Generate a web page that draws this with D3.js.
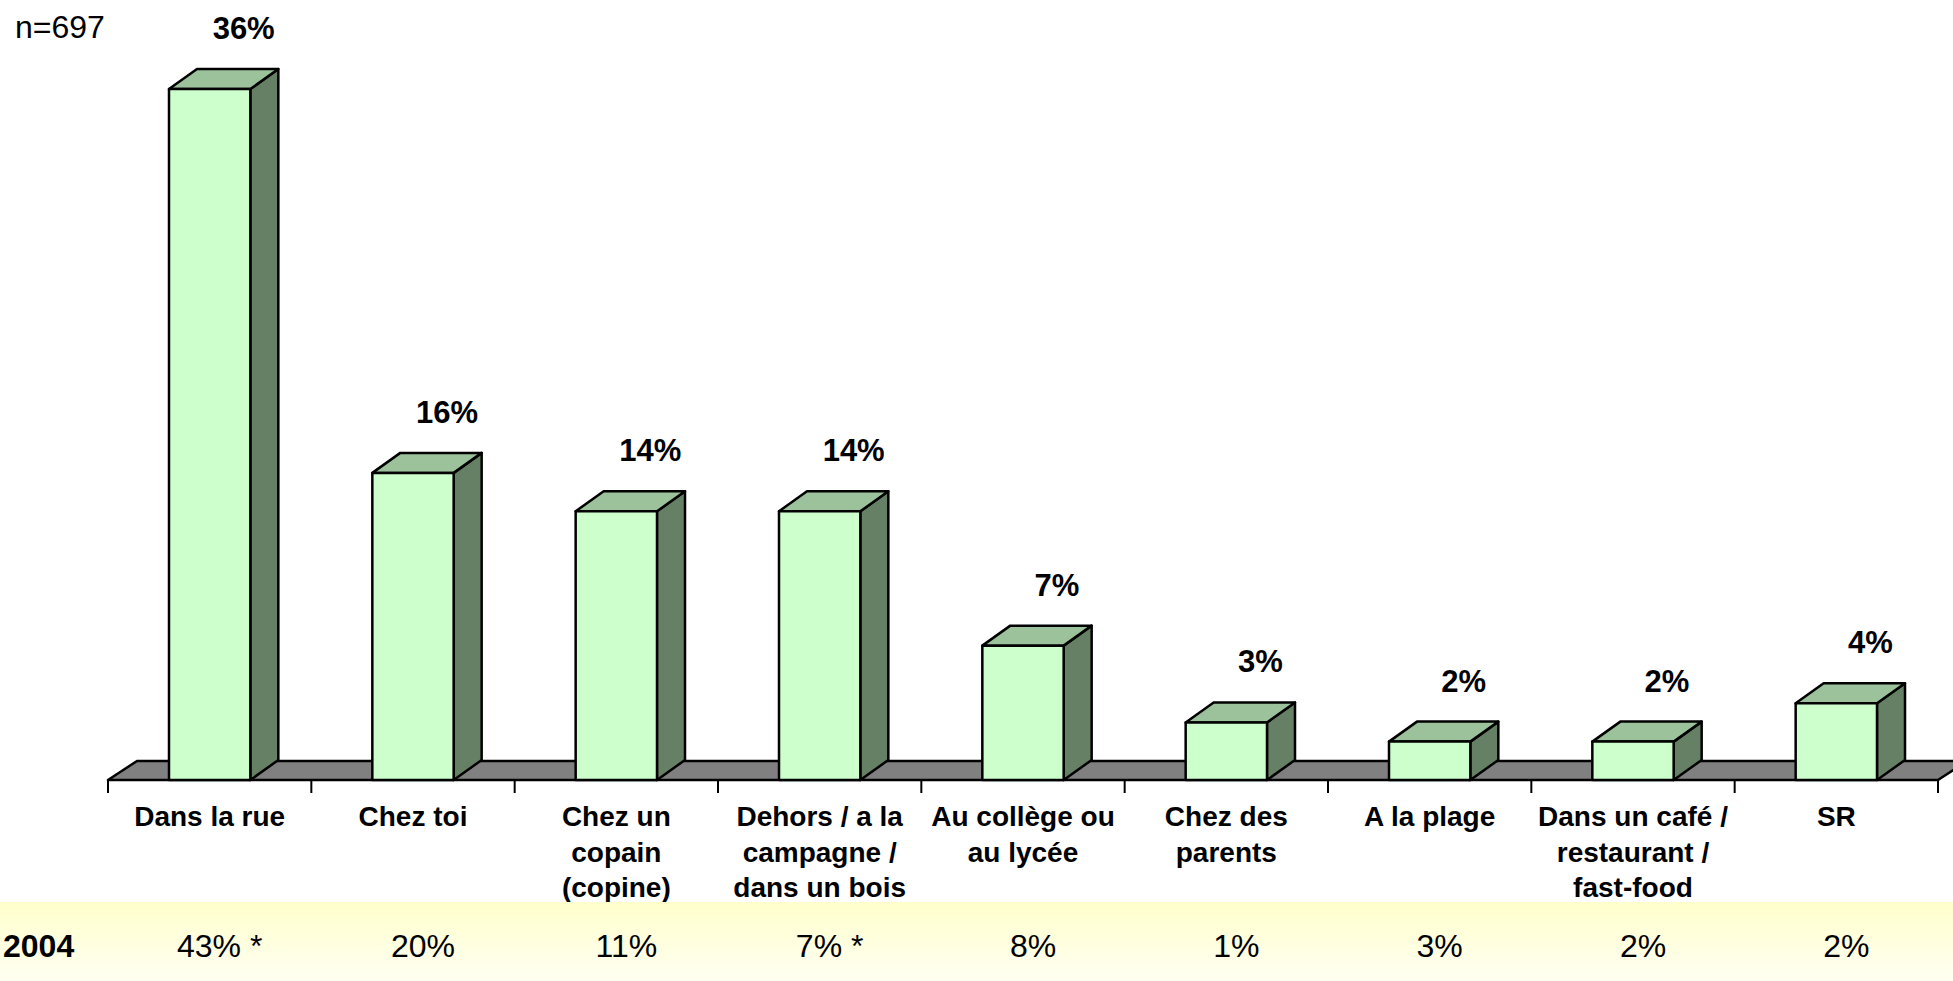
<!DOCTYPE html>
<html lang="fr">
<head>
<meta charset="UTF-8">
<title>Lieux</title>
<script src="https://d3js.org/d3.v7.min.js"></script>
<style>
  html, body { margin: 0; padding: 0; background: #fff; }
  svg { display: block; font-family: Arial, "Liberation Sans", sans-serif; }
</style>
</head>
<body>
<svg></svg>
<script>
// data
const categories = ['Dans la rue', 'Chez toi', 'Chez un copain (copine)', 'Dehors / a la campagne / dans un bois',
  'Au collège ou au lycée', 'Chez des parents', 'A la plage', 'Dans un café / restaurant / fast-food', 'SR'];
const labelLines = [
  ['Dans la rue'], ['Chez toi'], ['Chez un', 'copain', '(copine)'], ['Dehors / a la', 'campagne /', 'dans un bois'],
  ['Au collège ou', 'au lycée'], ['Chez des', 'parents'], ['A la plage'], ['Dans un café /', 'restaurant /', 'fast-food'], ['SR']
];
const values2008 = [36, 16, 14, 14, 7, 3, 2, 2, 4];
const values2004 = ['43% *', '20%', '11%', '7% *', '8%', '1%', '3%', '2%', '2%'];
const sampleLabel = 'n=697';
const compareYear = '2004';

const width = 1953, height = 981;
const depthX = 28, depthY = -20;
const baseY = 780;

const svg = d3.select('svg').attr('width', width).attr('height', height);

const x = d3.scaleBand()
    .domain(categories)
    .range([108, 1938])
    .paddingInner(0.6)
    .paddingOuter(0.3);

const y = d3.scaleLinear().domain([0, 36]).range([baseY, 89]);

// floor
const x0 = 108, x1 = 1938;
svg.append('polygon')
    .attr('points', [[x0, baseY], [x1, baseY], [x1 + depthX + 1, baseY + depthY + 1], [x0 + depthX + 1, baseY + depthY + 1]].join(' '))
    .attr('fill', '#808080')
    .attr('stroke', '#000')
    .attr('stroke-width', 2.5)
    .attr('stroke-linejoin', 'round');

// category ticks
svg.append('g')
    .selectAll('line')
    .data(d3.range(categories.length + 1))
    .enter()
    .append('line')
    .attr('x1', i => x0 + i * x.step())
    .attr('x2', i => x0 + i * x.step())
    .attr('y1', baseY)
    .attr('y2', baseY + 13)
    .attr('stroke', '#000')
    .attr('stroke-width', 2);

// 3d bars
const bars = svg.append('g')
    .selectAll('g')
    .data(categories)
    .enter()
    .append('g');

const pts = arr => arr.map(p => p.join(',')).join(' ');

bars.append('polygon')   // side
    .attr('points', (d, i) => {
        const r = x(d) + x.bandwidth(), t = y(values2008[i]);
        return pts([[r, t], [r + depthX, t + depthY], [r + depthX, baseY + depthY], [r, baseY]]);
    })
    .attr('fill', '#668066');

bars.append('polygon')   // top
    .attr('points', (d, i) => {
        const l = x(d), r = l + x.bandwidth(), t = y(values2008[i]);
        return pts([[l, t], [l + depthX, t + depthY], [r + depthX, t + depthY], [r, t]]);
    })
    .attr('fill', '#9cc29c');

bars.append('rect')      // front
    .attr('x', d => x(d))
    .attr('y', (d, i) => y(values2008[i]))
    .attr('width', x.bandwidth())
    .attr('height', (d, i) => baseY - y(values2008[i]))
    .attr('fill', '#ccffcc');

bars.selectAll('polygon, rect')
    .attr('stroke', '#000')
    .attr('stroke-width', 2.5)
    .attr('stroke-linejoin', 'round');

// value labels
svg.append('g')
    .selectAll('text')
    .data(categories)
    .enter()
    .append('text')
    .attr('x', d => x(d) + x.bandwidth() / 2 + 34)
    .attr('y', (d, i) => y(values2008[i]) + depthY - 30)
    .attr('text-anchor', 'middle')
    .attr('font-size', 31)
    .attr('font-weight', 'bold')
    .text((d, i) => values2008[i] + '%');

// category labels
const lab = svg.append('g')
    .selectAll('text')
    .data(categories)
    .enter()
    .append('text')
    .attr('text-anchor', 'middle')
    .attr('font-size', 28)
    .attr('font-weight', 'bold')
    .attr('fill', '#000');

lab.selectAll('tspan')
    .data((d, i) => labelLines[i].map(t => ({t, cx: x(d) + x.bandwidth() / 2})))
    .enter()
    .append('tspan')
    .attr('x', d => d.cx)
    .attr('y', (d, j) => 826 + j * 35.5)
    .text(d => d.t);

// 2004 band (drawn over the label descenders, as in the original)
const grad = svg.append('defs').append('linearGradient')
    .attr('id', 'band').attr('x1', 0).attr('y1', 0).attr('x2', 0).attr('y2', 1);
grad.append('stop').attr('offset', '0%').attr('stop-color', '#ffffcc');
grad.append('stop').attr('offset', '100%').attr('stop-color', '#fffff2');

svg.append('rect')
    .attr('x', 0).attr('y', 902)
    .attr('width', width).attr('height', height - 902)
    .attr('fill', 'url(#band)');

svg.append('text')
    .attr('x', 3).attr('y', 957)
    .attr('font-size', 32)
    .attr('font-weight', 'bold')
    .text(compareYear);

svg.append('g')
    .selectAll('text')
    .data(categories)
    .enter()
    .append('text')
    .attr('x', d => x(d) + x.bandwidth() / 2 + 10)
    .attr('y', 957)
    .attr('text-anchor', 'middle')
    .attr('font-size', 32)
    .text((d, i) => values2004[i]);

svg.append('text')
    .attr('x', 15).attr('y', 38)
    .attr('font-size', 32)
    .text(sampleLabel);
</script>
</body>
</html>
